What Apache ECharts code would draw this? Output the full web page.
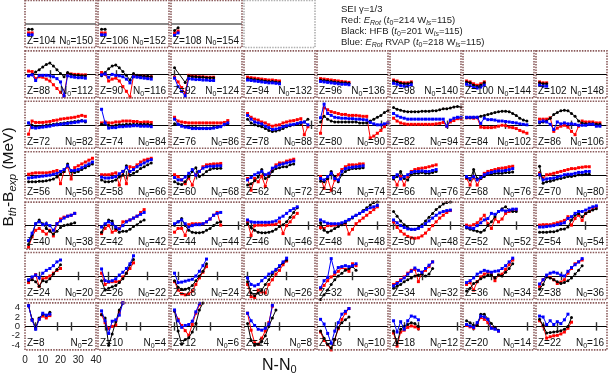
<!DOCTYPE html>
<html><head><meta charset="utf-8">
<script src="https://cdn.jsdelivr.net/npm/echarts@6/dist/echarts.min.js"></script>
<style>html,body{margin:0;padding:0;background:#fff}#c{width:612px;height:374px}</style>
</head><body><div id="c"></div>
<script>
// ---------------- data ----------------
const panelZ = [104,106,108, 88,90,92,94,96,98,100,102, 72,74,76,78,80,82,84,86,
  56,58,60,62,64,66,68,70, 40,42,44,46,48,50,52,54, 24,26,28,30,32,34,36,38, 8,10,12,14,16,18,20,22];
const panelN0 = [150,152,154, 112,116,124,132,136,140,144,148, 82,84,86,88,90,94,102,106,
  56,66,68,72,74,76,76,80, 38,42,44,46,48,48,52,54, 20,22,24,26,30,32,34,36, 2,4,6,8,10,12,14,16];
// N-N0 of the first point and spacing (even-even nuclei)
const xStart = 2, xStep = 2;
const magicN = [8,20,28,50,82,126];
const xTickLabels = [0,10,20,30,40];
const yTickLabels = [-4,-2,0,2,4];

const redY = [
 [-1.9,-1.9],[-1.9,-1.9],[-2.0,-1.5],
 [0.7,0.6,-0.9,-0.5,-0.6,-1.0,-1.4,-2.2,-3.0,-3.8,-4.6,0.2,0.1,0.0,0.0,-0.1,-0.1],
 [0.4,0.0,-1.4,-1.0,-0.8,-1.4,-2.6,-3.6,-4.8,-0.3,-0.3,-0.4,-0.4,-0.5,-0.5],
 [-0.6,-1.6,-2.8,-4.0,-0.2,-0.4,-0.4,-0.5,-0.5,-0.6,-0.6,-0.6],
 [-0.6,-0.7,-0.8,-0.9,-1.0,-1.1,-1.2,-1.2,-1.3,-1.4],
 [-0.9,-1.0,-1.1,-1.2,-1.3,-1.4,-1.5,-1.6,-1.7],
 [-1.2,-1.4,-1.7,-1.8,-1.8,-1.6],
 [-1.4,-1.6,-2.0,-2.3,-2.0,-1.6],
 [-1.6,-1.8,-1.8],
 [-2.0,0.8,0.5,0.5,0.5,0.6,0.7,0.9,1.0,1.2,1.3,1.4,1.5,1.6,1.8,2.0,1.8],
 [0.4,0.6,0.4,0.4,0.6,0.6,0.8,0.8,0.8,0.7,0.7,0.5,0.6,0.6,0.5],
 [1.6,0.8,0.6,0.5,0.4,0.4,0.4,0.4,0.4,0.4,0.4,0.4,0.4,0.4,0.5,0.9],
 [2.4,1.6,1.2,1.0,0.6,0.4,0.0,-0.3,-0.1,0.0,0.4,0.6,0.8,0.9,1.1,1.3,-2.1,-0.4],
 [-1.8,3.6,3.2,2.8,2.6,2.4,2.2,2.2,2.0,2.0,2.0,1.9,1.8,1.8,-2.8,-2.4,-1.8,-1.2,-0.4,0.4],
 [1.4,0.8,0.4,0.2,0.1,0.1,0.1,0.1,0.1,0.1,0.1,0.1,0.2,0.3,0.5,-0.3,0.6,0.9,1.3,1.3],
 [1.5,1.5,1.4,1.5,-0.5,-0.6,-0.6,-0.6,-0.5,-0.3,-0.1,-0.2,-0.5,-0.6,-0.8,-1.2,-1.5,-1.8],
 [1.2,1.2,1.2,1.5,-1.4,-0.7,-0.3,-0.1,-0.5,-1.4,-2.1,-0.3,0.8,0.6,0.6,0.6,0.4,0.4],
 [0.2,0.4,0.5,0.5,0.5,0.5,0.6,0.8,1.0,-1.8,0.8,1.8,-0.8,1.6,2.0,2.4,2.8,3.2,3.6],
 [0.1,0.1,0.1,0.3,0.5,-2.1,0.8,-1.8,1.8,1.6,2.2,2.8,3.2,3.4,3.6],
 [0.1,-0.3,-1.0,-1.8,-0.6,-2.1,0.1,0.8,1.8,2.2,2.3,2.4,2.4,2.5],
 [-0.7,-3.2,-0.7,-1.4,-0.2,-2.4,0.1,1.2,2.2,2.6,2.6,3.0,3.2,3.4],
 [-0.3,-2.8,-0.7,-3.2,-1.0,0.1,1.2,1.8,2.2,2.2,2.2,2.4,2.4],
 [-0.6,-2.1,-0.3,-2.1,-0.3,0.8,1.2,1.4,1.5,1.6,1.8,2.0,2.2],
 [-0.7,-2.1,-0.3,-2.1,-0.7,0.4,0.8,1.0,1.2,1.4,1.5,1.6,1.8,1.9],
 [0.4,-0.6,0.1,0.2,0.4,0.6,0.8,1.0,1.2,1.4,1.4,1.6,1.7,1.8,1.8],
 [-4.6,-2.4,-1.0,-0.6,-1.2,-1.8,-1.0,-2.2,0.4,1.4,1.8,2.0,2.2,2.6],
 [-1.7,-0.6,0.0,-1.4,-1.0,-0.6,0.8,0.9,1.2,1.6,2.0,2.8,3.4],
 [-1.4,-0.6,-0.6,-2.1,0.2,0.4,0.4,0.4,0.4,0.8,1.4,2.2,2.8,0.1],
 [0.8,-2.1,0.0,0.1,0.1,0.1,0.2,0.2,0.3,0.8,-1.7,0.0,0.8,1.8,2.6],
 [-0.4,-0.6,0.0,0.0,0.1,0.1,0.3,0.5,-1.8,-0.8,0.4,1.0,1.6,2.2,2.8,3.4,4.0],
 [0.8,-0.4,-1.2,-1.8,-2.3,-2.6,-2.7,-2.6,-2.2,-1.6,-0.8,0.0,0.8,1.6,2.2,2.8,3.2],
 [0.1,-0.1,0.2,0.6,1.4,2.2,0.4,-0.6,1.4,0.8,1.4,2.6,3.0,3.3,3.4],
 [0.1,0.2,0.2,0.2,0.4,0.6,0.8,1.1,1.9,0.1,1.5,2.2,1.1,2.6,3.0,3.6,4.0],
 [-1.4,-0.6,0.3,-2.2,-0.6,-0.4,0.0,0.6,1.2,1.6],
 [0.6,-1.8,-1.3,-1.2,-1.2,-1.2,-0.2,0.6,1.6,2.8],
 [-1.2,-3.0,-3.8,-4.0,-3.8,-3.2,-1.8,-0.4,0.8,2.0],
 [-1.8,-4.4,-4.6,-3.0,-3.4,-3.6,-1.8,-0.8,0.4,1.2,2.4,3.2],
 [-2.8,-2.0,-1.0,-0.2,0.4,1.0,1.8,1.4,1.0,2.6,2.2],
 [-1.8,-1.4,-0.8,-0.2,0.6,1.2,1.4,-1.2,0.8,1.2,2.0,3.0],
 [-1.8,-1.4,-3.0,-1.2,-0.2,0.4,0.8,0.6,-1.0,0.2,0.4,1.4,2.4,3.4],
 [-2.2,-0.8,0.0,-0.3,-0.8,-1.6,-1.3,-0.8,0.6,1.6,2.6,3.0,3.4],
 [4.4,1.4,-0.4,1.6,2.2,1.8,2.3],
 [2.5,0.8,-0.5,0.0,0.3,3.0,5.0],
 [3.3,1.5,0.2,-0.9,-1.9,0.4,2.8,4.6],
 [2.8,-0.8,-3.5,-3.8,-2.5,-1.0,0.8,4.3],
 [-1.2,-3.0,-3.9,-5.0,-2.8,-0.5,1.5,2.8,3.8],
 [-1.4,-4.2,-1.2,-0.8,-0.2,0.1,-0.1,-0.5],
 [0.2,-0.1,-0.4,0.4,1.9,1.5,0.8,-0.3,-0.4,-1.0],
 [1.2,0.1,-2.5,-2.2,-2.0,-1.9,-1.6,-1.2,-0.4,0.9]
];
const blackY = [
 [-1.1,-1.1],[-1.1,-1.1],[-1.4,-0.8],
 [-0.3,0.0,0.5,1.0,1.6,2.1,2.4,1.8,1.0,0.2,-0.5,0.4,0.0,-0.2,-0.2,-0.3,-0.3],
 [-0.3,0.4,1.2,1.8,2.0,1.4,0.6,-0.2,-1.2,0.2,-0.2,-0.3,-0.4,-0.4,-0.5],
 [1.4,null,null,-1.7,-0.3,-0.5,-0.5,-0.6,-0.6,-0.7,-0.7,-0.7],
 [-0.9,-1.0,-1.1,-1.2,-1.3,-1.4,-1.5,-1.5,-1.6,-1.7],
 [-1.2,-1.3,-1.4,-1.5,-1.6,-1.7,-1.8,-1.8,-1.9],
 [-1.4,-1.6,-1.9,-2.0,-2.0,-1.8],
 [-1.6,-1.8,-2.3,-2.6,-2.3,-1.8],
 [-1.8,-2.0,-2.0],
 [0.4,-0.1,-0.3,-0.3,-0.2,-0.1,0.0,0.1,0.2,0.3,0.4,0.5,0.6,0.7,0.8,0.9,0.6],
 [0.1,0.1,-0.1,-0.3,-0.1,0.0,0.0,0.1,0.1,0.1,0.1,0.1,0.1,0.1,0.0],
 [0.2,0.1,-0.1,-0.3,-0.5,-0.6,-0.6,-0.7,-0.7,-0.7,-0.7,-0.6,-0.5,-0.3,0.0,0.2],
 [1.2,0.4,0.0,-0.2,-0.4,-0.8,-1.2,-1.4,-1.3,-1.1,-0.8,-0.4,-0.2,0.0,0.1,0.3,0.6,1.2],
 [0.6,1.8,1.2,0.8,0.6,0.6,0.6,0.6,0.6,0.6,0.6,0.4,0.4,0.4,0.8,1.2,1.6,2.0,2.6,3.0],
 [3.7,3.3,3.1,2.9,2.8,2.8,2.8,2.8,2.9,2.9,2.9,3.0,3.0,3.2,3.4,3.4,3.6,3.8,3.9,3.8],
 [1.5,1.5,1.6,1.6,1.8,2.0,2.2,2.4,2.6,2.8,2.9,2.9,2.8,2.4,2.0,1.4,1.0,0.8],
 [0.4,0.6,0.8,1.4,2.2,2.6,3.0,3.1,3.0,2.4,1.8,0.8,0.4,0.2,0.2,0.2,0.1,0.1],
 [-1.4,-1.4,-1.4,-1.3,-1.3,-1.2,-1.0,-0.8,-0.4,0.2,0.8,2.4,0.8,0.6,0.8,1.2,1.6,2.0,2.4],
 [-1.0,-1.4,-1.4,-1.3,-1.0,-0.4,0.0,2.0,0.0,0.4,0.8,1.4,1.8,2.2,2.6],
 [-1.4,-1.8,-2.0,-1.4,-0.3,0.8,1.6,-0.3,0.1,0.8,1.2,1.5,1.4,1.5],
 [-2.1,-1.8,-1.2,-0.4,1.2,-0.7,-0.3,0.8,1.4,1.6,1.8,1.8,2.2,2.4],
 [-1.3,-1.4,-0.7,0.8,-0.3,-1.4,0.1,0.8,1.2,1.4,1.4,1.5,1.6],
 [-0.8,-0.3,0.8,-0.7,-1.0,0.1,0.4,0.4,0.6,0.4,0.4,0.6,0.8],
 [-0.5,-1.0,1.2,-0.7,-0.7,-0.3,0.2,0.2,0.4,0.4,0.4,0.6,0.6,0.7],
 [1.9,-1.7,-1.4,-1.3,-1.1,-0.8,-0.7,-0.5,-0.3,-0.3,-0.1,0.1,0.1,0.2,0.2],
 [-4.0,-2.0,0.4,1.2,0.4,-0.6,-1.2,-1.8,-1.2,-0.4,0.0,0.2,0.4,0.6],
 [-1.4,0.2,1.2,1.0,-0.6,-1.4,-1.2,-1.2,-0.8,-0.2,0.2,0.8,1.2],
 [0.1,0.8,1.5,0.0,-1.0,-1.4,-1.5,-1.5,-1.4,-1.0,-0.6,0.0,0.6,0.8],
 [0.4,-0.4,-1.0,-1.4,-1.5,-1.5,-1.4,-1.2,-0.8,-0.2,0.2,0.8,1.8,2.8,3.8],
 [0.6,-1.0,-1.4,-1.1,-0.6,-0.2,0.2,0.6,1.2,1.6,2.2,2.6,3.2,3.8,4.4,4.9,5.0],
 [3.0,2.0,1.0,0.2,-0.4,-0.8,-0.8,-0.4,0.2,1.0,1.8,2.6,3.4,4.0,4.6,4.9,5.0],
 [-0.5,-0.8,-1.0,-1.2,-1.4,-1.0,0.0,0.8,1.9,3.0,3.6,4.0,3.3,3.0,3.0],
 [-1.4,-1.4,-1.4,-1.3,-1.3,-1.1,-0.8,-0.7,-0.3,1.2,2.2,2.6,1.9,2.6,3.0,3.3,3.6],
 [-1.0,-0.8,-1.2,-2.2,-1.0,-1.2,-0.6,0.4,1.4,2.4],
 [-1.0,-3.0,-2.6,-2.3,-2.0,-1.4,-0.6,0.6,2.4,3.5],
 [-1.0,-2.4,-2.8,-2.8,-2.6,-2.0,-1.0,0.0,1.0,2.6],
 [-1.2,-3.6,-4.2,-3.6,-3.0,-1.8,-0.8,0.4,1.2,2.0,2.8,3.4],
 [-5.0,-4.0,-3.0,-1.8,-0.8,0.0,0.6,1.2,1.6,2.0,1.2],
 [-2.6,-2.2,-1.8,-1.2,-0.8,-0.4,0.0,0.2,0.4,0.0,0.4,1.6],
 [-3.2,-2.6,-1.6,-1.2,-0.6,-0.2,0.2,0.2,-0.4,0.2,0.0,0.8,1.6,2.6],
 [-2.8,-1.8,-0.2,-0.4,-0.8,-1.2,-1.6,-1.4,-1.0,-0.4,0.4,1.2,2.2],
 [4.4,1.5,-0.3,1.8,2.6,2.3,3.0],
 [2.5,1.8,-4.0,-1.6,1.0,3.5,5.0],
 [3.3,-1.0,-3.8,-2.8,-2.4,-1.2,0.6,3.5,5.0],
 [0.6,-3.0,-4.0,-3.8,-3.2,-2.0,0.0,1.8,3.5],
 [-1.0,-2.5,-3.8,-4.6,-2.8,-0.3,0.8,1.4,2.0],
 [-1.0,-3.6,-0.6,0.0,0.4,0.8,0.6,0.0],
 [1.2,0.8,0.2,0.2,2.6,2.6,1.6,0.6,-0.2,-0.8],
 [1.5,0.2,-1.4,-1.3,-1.2,-1.1,-0.9,-0.6,0.0,1.9]
];
const blueY = [
 [-2.3,-2.3],[-2.3,-2.3],[-2.4,-1.9],
 [-0.3,-0.1,-1.3,-0.2,-0.2,-0.2,-0.3,-0.5,-0.9,-1.6,-4.6,-0.3,-0.5,-0.6,-0.7,-0.7,-0.8],
 [-0.1,0.1,-0.6,0.0,-0.2,-0.3,-0.5,-1.0,-1.8,-0.5,-0.6,-0.7,-0.8,-0.9,-1.0],
 [-0.8,-2.6,-3.6,-4.6,-0.9,-1.0,-1.1,-1.1,-1.2,-1.2,-1.3,-1.3],
 [-1.2,-1.3,-1.4,-1.5,-1.6,-1.7,-1.8,-1.8,-1.9,-2.0],
 [-1.5,-1.6,-1.7,-1.8,-1.9,-2.0,-2.1,-2.1,-2.2],
 [-1.9,-2.1,-2.4,-2.5,-2.5,-2.2],
 [-2.1,-2.4,-2.8,-2.9,-2.7,-2.3],
 [-2.3,-2.5,-2.5],
 [0.4,-0.6,-0.7,-0.6,-0.5,-0.4,-0.3,-0.1,0.0,0.1,0.2,0.3,0.4,0.5,0.6,0.8,0.8],
 [3.3,0.4,-0.7,-0.6,-0.6,-0.4,-0.4,-0.3,-0.3,-0.2,-0.2,-0.3,-0.3,-0.3,-0.4],
 [1.2,0.1,-0.3,-0.5,-0.6,-0.8,-0.8,-0.8,-0.8,-0.8,-0.8,-0.7,-0.5,-0.4,0.1,0.4],
 [2.0,1.2,0.6,0.4,0.2,-0.3,-0.6,-1.0,-0.9,-0.7,-0.4,-0.2,0.0,0.1,0.3,0.5,0.6,0.0],
 [1.5,4.4,2.4,2.0,1.6,1.5,1.4,1.4,1.3,1.3,1.2,1.2,1.1,1.0,0.5,0.2,0.0,0.0,0.2,0.4],
 [2.4,1.9,1.6,1.4,1.2,1.2,1.2,1.2,1.2,1.2,1.2,1.2,1.2,1.2,1.2,-0.3,1.0,1.4,1.6,1.6],
 [1.6,1.6,1.6,1.6,0.3,1.4,1.1,1.1,1.0,0.8,0.8,0.7,0.6,0.5,0.4,0.2,0.1,0.0],
 [0.6,0.8,0.6,0.1,-1.0,0.6,0.2,0.4,0.2,0.2,0.1,-0.1,-0.1,-0.1,0.1,0.1,-0.3,-0.3],
 [-0.6,-0.5,-0.4,-0.3,-0.2,-0.1,0.0,0.2,0.4,0.8,1.2,2.0,1.0,1.0,1.2,1.6,2.0,2.4,2.8],
 [-0.4,-0.6,-0.6,-0.5,-0.3,0.3,0.8,1.6,0.8,1.2,1.8,2.2,2.6,3.0,3.3],
 [-0.5,-1.0,-1.0,-0.4,0.4,1.2,0.0,0.8,1.5,1.8,1.9,1.9,2.0,2.0],
 [-1.0,-0.5,0.1,0.5,0.8,0.1,0.4,1.5,1.8,2.2,2.4,2.6,2.8,3.0],
 [-0.7,-1.0,-0.3,0.4,-0.7,-1.0,0.8,1.4,1.6,1.7,1.8,1.9,2.0],
 [-0.5,0.1,-0.8,-0.3,0.1,0.6,0.8,0.8,0.9,0.8,0.8,1.0,1.2],
 [-0.3,-0.7,-0.3,-1.0,-0.5,0.1,0.4,0.6,0.8,0.9,0.9,1.0,1.2,1.4],
 [0.1,-1.0,-0.8,-0.7,-0.6,-0.4,-0.2,0.1,0.2,0.2,0.4,0.6,0.6,0.8,0.8],
 [-3.2,-1.6,0.4,0.8,0.2,0.4,0.0,-1.0,0.4,1.0,1.6,2.0,2.2,2.6],
 [-0.3,0.4,0.8,0.4,-0.3,-0.7,0.0,0.8,1.2,1.6,2.0,2.4,2.8],
 [0.4,0.8,1.2,0.4,-0.3,0.0,0.2,0.2,0.4,0.8,1.4,2.2,2.6,2.8],
 [1.2,0.8,0.7,0.7,0.7,0.7,0.7,0.8,1.0,1.6,2.0,2.6,3.2,3.6,4.0],
 [1.2,0.8,0.5,0.4,0.4,0.4,0.6,0.9,1.3,1.8,2.2,2.6,3.0,3.4,3.8,4.0,4.3],
 [1.2,0.6,0.0,-0.4,-0.7,-0.8,-0.8,-0.6,-0.2,0.4,1.0,1.6,2.2,2.7,3.0,3.2,3.3],
 [-0.3,-0.5,-0.6,0.0,0.6,1.2,1.5,2.6,2.4,3.0,3.3,3.1,3.3,3.5,3.5],
 [-0.3,-0.3,-0.2,-0.1,0.0,0.2,0.4,0.6,1.5,1.9,2.6,3.0,3.0,3.3,3.7,4.0,4.2],
 [-0.8,-0.2,0.2,-0.4,0.6,1.2,1.6,2.2,3.0,3.4],
 [1.5,-1.0,-1.2,-1.0,-0.6,0.2,0.8,1.6,2.6,4.3],
 [0.6,-1.4,-1.3,-1.1,-0.9,-0.7,0.0,1.0,2.2,3.6],
 [-0.4,-1.8,-2.1,-1.8,-1.0,-0.3,0.4,0.8,1.4,2.2,3.0,3.8],
 [-2.5,-1.0,-0.3,3.7,0.8,1.8,2.0,2.2,2.0,2.2,2.6],
 [-2.1,-1.6,-1.0,-0.4,0.4,1.0,1.7,1.2,0.8,1.6,2.3,3.0],
 [-1.4,-1.0,-0.4,0.4,0.8,1.2,1.0,0.8,1.0,1.1,1.6,2.2,3.0,3.8],
 [-1.7,-0.8,0.2,0.6,0.8,0.6,0.2,0.0,1.0,1.8,2.4,3.0,3.7],
 [4.4,1.3,-0.6,1.5,2.8,2.4,2.6],
 [3.3,1.2,-1.5,1.1,1.4,2.4,5.0],
 [3.5,1.2,-0.2,0.2,0.4,1.1,3.1,4.9],
 [2.8,1.2,0.2,-0.6,-0.8,-0.4,0.5,4.5],
 [1.5,0.5,-1.5,-3.6,-1.0,0.8,2.6,3.2,3.8],
 [1.2,-1.2,1.0,-0.6,1.2,2.2,2.0,1.4],
 [0.4,0.1,-0.2,0.8,2.2,2.0,1.5,-0.4,-0.6,-1.0],
 [2.2,2.0,0.4,1.2,0.4,1.0,0.6,1.4,2.6]
];

// ---------------- layout ----------------
const W = 612;
const FONT = '"Liberation Sans", Arial, Helvetica, sans-serif';
const PL = 25, PW = 71, PCOL = 73, PT = 0.5, PH = 47, PROW = 50.4;
const YMIN = -5, YMAX = 5;
const rowOf = z => 6 - Math.floor((z - 8) / 16);
const colOf = z => ((z - 8) % 16) / 2;
const BORDER = '#8a5a5a';

const grid = [], xAxis = [], yAxis = [], series = [], title = [], graphic = [];

function borderRect(left, top, color) {
  graphic.push({type:'rect', silent:true, z:50,
    shape:{x:left, y:top, width:PW, height:PH},
    style:{fill:'none', stroke:color, lineWidth:1.6, lineDash:[1.5,1.2]}});
}

let cornerLeft = 0, cornerTop = 0;
panelZ.forEach((z, i) => {
  const r = rowOf(z), c = colOf(z);
  const left = PL + PCOL * c, top = PT + PROW * r;
  const corner = (r === 6 && c === 0);
  if (corner) { cornerLeft = left; cornerTop = top; }
  grid.push({left:left, top:top, width:PW, height:PH});
  xAxis.push({gridIndex:i, type:'value', min:xTickLabels[0], max:xTickLabels[xTickLabels.length-1], interval:10, show:corner,
    axisLine:{show:false}, axisTick:{show:false}, splitLine:{show:false},
    axisLabel:{show:corner, fontSize:10, color:'#222', fontFamily:FONT, margin:5, showMinLabel:true, showMaxLabel:true}});
  yAxis.push({gridIndex:i, type:'value', min:YMIN, max:YMAX, show:false});
  const ml = [{yAxis:0, lineStyle:{color: r === 0 ? '#888' : '#000', width: r === 0 ? 2 : 1.2, type:'solid'}}];
  magicN.forEach(m => {
    const x = m - panelN0[i];
    if (x > 0 && x < 40) ml.push([{coord:[x,-0.9]},{coord:[x,0.9]}]);
  });
  const mk = (arr, color, sym, zz, withMarks) => {
    const s = {type:'line', xAxisIndex:i, yAxisIndex:i, z:zz,
      data: arr.map((y,k) => [xStart + xStep*k, y]),
      symbol:sym, symbolSize:3, showSymbol:true, connectNulls:true,
      lineStyle:{color:color, width:1}, itemStyle:{color:color},
      animation:false, silent:true};
    if (withMarks) s.markLine = {silent:true, symbol:['none','none'], label:{show:false},
      lineStyle:{color:'#333', width:1.4, type:'solid'}, data:ml, animation:false, z:1};
    return s;
  };
  series.push(mk(redY[i], '#ff0000', 'rect', 3, true));
  series.push(mk(blackY[i], '#000000', 'circle', 4, false));
  series.push(mk(blueY[i], '#0000ff', 'rect', 5, false));
  const lt = top + PH - 12.5;
  title.push({text:'Z=' + z, left:left + 2, top:lt, padding:0,
    textStyle:{fontSize:10, fontWeight:'normal', color:'#111', fontFamily:FONT, lineHeight:12}});
  title.push({text:'{a|N}{s|0}{a|=' + panelN0[i] + '}', right:W - (left + PW) + 3, top:lt, padding:0,
    textStyle:{fontSize:10, fontWeight:'normal', color:'#111', fontFamily:FONT, lineHeight:12,
      rich:{a:{fontSize:10, color:'#111', fontFamily:FONT, lineHeight:12},
            s:{fontSize:7, color:'#111', fontFamily:FONT, lineHeight:7, verticalAlign:'bottom'}}}});
  borderRect(left, top, BORDER);
});
// empty frame in the top row
borderRect(PL + PCOL * 3, PT, '#b0b0b0');

// label-only axes for the y tick labels of the corner panel (-4..4);
// split into two axes (every other label) so that no label gets auto-hidden
const gy = panelZ.length;
const pxPerUnit = PH / (YMAX - YMIN);
const yLo = yTickLabels[0], yHi = yTickLabels[yTickLabels.length-1];
grid.push({left:cornerLeft, top:cornerTop + (YMAX - yHi) * pxPerUnit - 6,
  width:PW, height:(yHi - yLo) * pxPerUnit + 12});
xAxis.push({gridIndex:gy, type:'value', show:false, min:0, max:1});
const padU = 6 / pxPerUnit;
[yTickLabels.filter((v,k) => k % 2 === 0), yTickLabels.filter((v,k) => k % 2 === 1)].forEach(vals => {
  yAxis.push({gridIndex:gy, type:'value', position:'left', offset:0, min:yLo - padU, max:yHi + padU, show:true,
    axisLine:{show:false}, axisTick:{show:false}, splitLine:{show:false},
    axisLabel:{show:true, customValues:vals, fontSize:9.5, color:'#222', fontFamily:FONT, margin:5,
      showMinLabel:true, showMaxLabel:true}});
});

// y-axis title
graphic.push({type:'text', x:9, y:177, rotation:Math.PI/2, silent:true,
  style:{text:'{b|B}{s|th}{b|-B}{s|exp}{b| (MeV)}', align:'center', verticalAlign:'middle',
    fontSize:15.5, fontFamily:FONT, fill:'#111',
    rich:{b:{fontSize:15.5, fontFamily:FONT, fill:'#111', lineHeight:18},
          s:{fontSize:11, fontFamily:FONT, fill:'#111', fontStyle:'italic', lineHeight:10, verticalAlign:'bottom'}}}});

// x-axis title
title.push({text:'{n|N-N}{s|0}', left:262, top:356, padding:0,
  textStyle:{fontSize:16, fontWeight:'normal', color:'#111', fontFamily:FONT,
    rich:{n:{fontSize:16, color:'#111', fontFamily:FONT, lineHeight:19},
          s:{fontSize:11, color:'#111', fontFamily:FONT, lineHeight:11, verticalAlign:'bottom'}}}});

// legend text
const L = 11.1;
const lrich = {
  t:{fontSize:9.5, color:'#222', fontFamily:FONT, lineHeight:L},
  i:{fontSize:9.5, color:'#222', fontFamily:FONT, lineHeight:L, fontStyle:'italic'},
  s:{fontSize:7, color:'#222', fontFamily:FONT, lineHeight:6, verticalAlign:'bottom'},
  si:{fontSize:7, color:'#222', fontFamily:FONT, lineHeight:6, verticalAlign:'bottom', fontStyle:'italic'}
};
title.push({left:341, top:4, padding:0,
  text:'{t|SEI \u03b3=1/3}\n' +
       '{t|Red: }{i|E}{si|Rot}{t| (}{i|t}{s|0}{t|=214 W}{si|ls}{t|=115)}\n' +
       '{t|Black: HFB (}{i|t}{s|0}{t|=201 W}{si|ls}{t|=115)}\n' +
       '{t|Blue: }{i|E}{si|Rot}{t| RVAP (}{i|t}{s|0}{t|=218 W}{si|ls}{t|=115)}',
  textStyle:{fontSize:9.5, fontWeight:'normal', color:'#222', fontFamily:FONT, lineHeight:L, rich:lrich}});

const chart = echarts.init(document.getElementById('c'), null, {renderer:'canvas'});
chart.setOption({animation:false, backgroundColor:'#fff', grid, xAxis, yAxis, series, title, graphic});
</script>
</body></html>
